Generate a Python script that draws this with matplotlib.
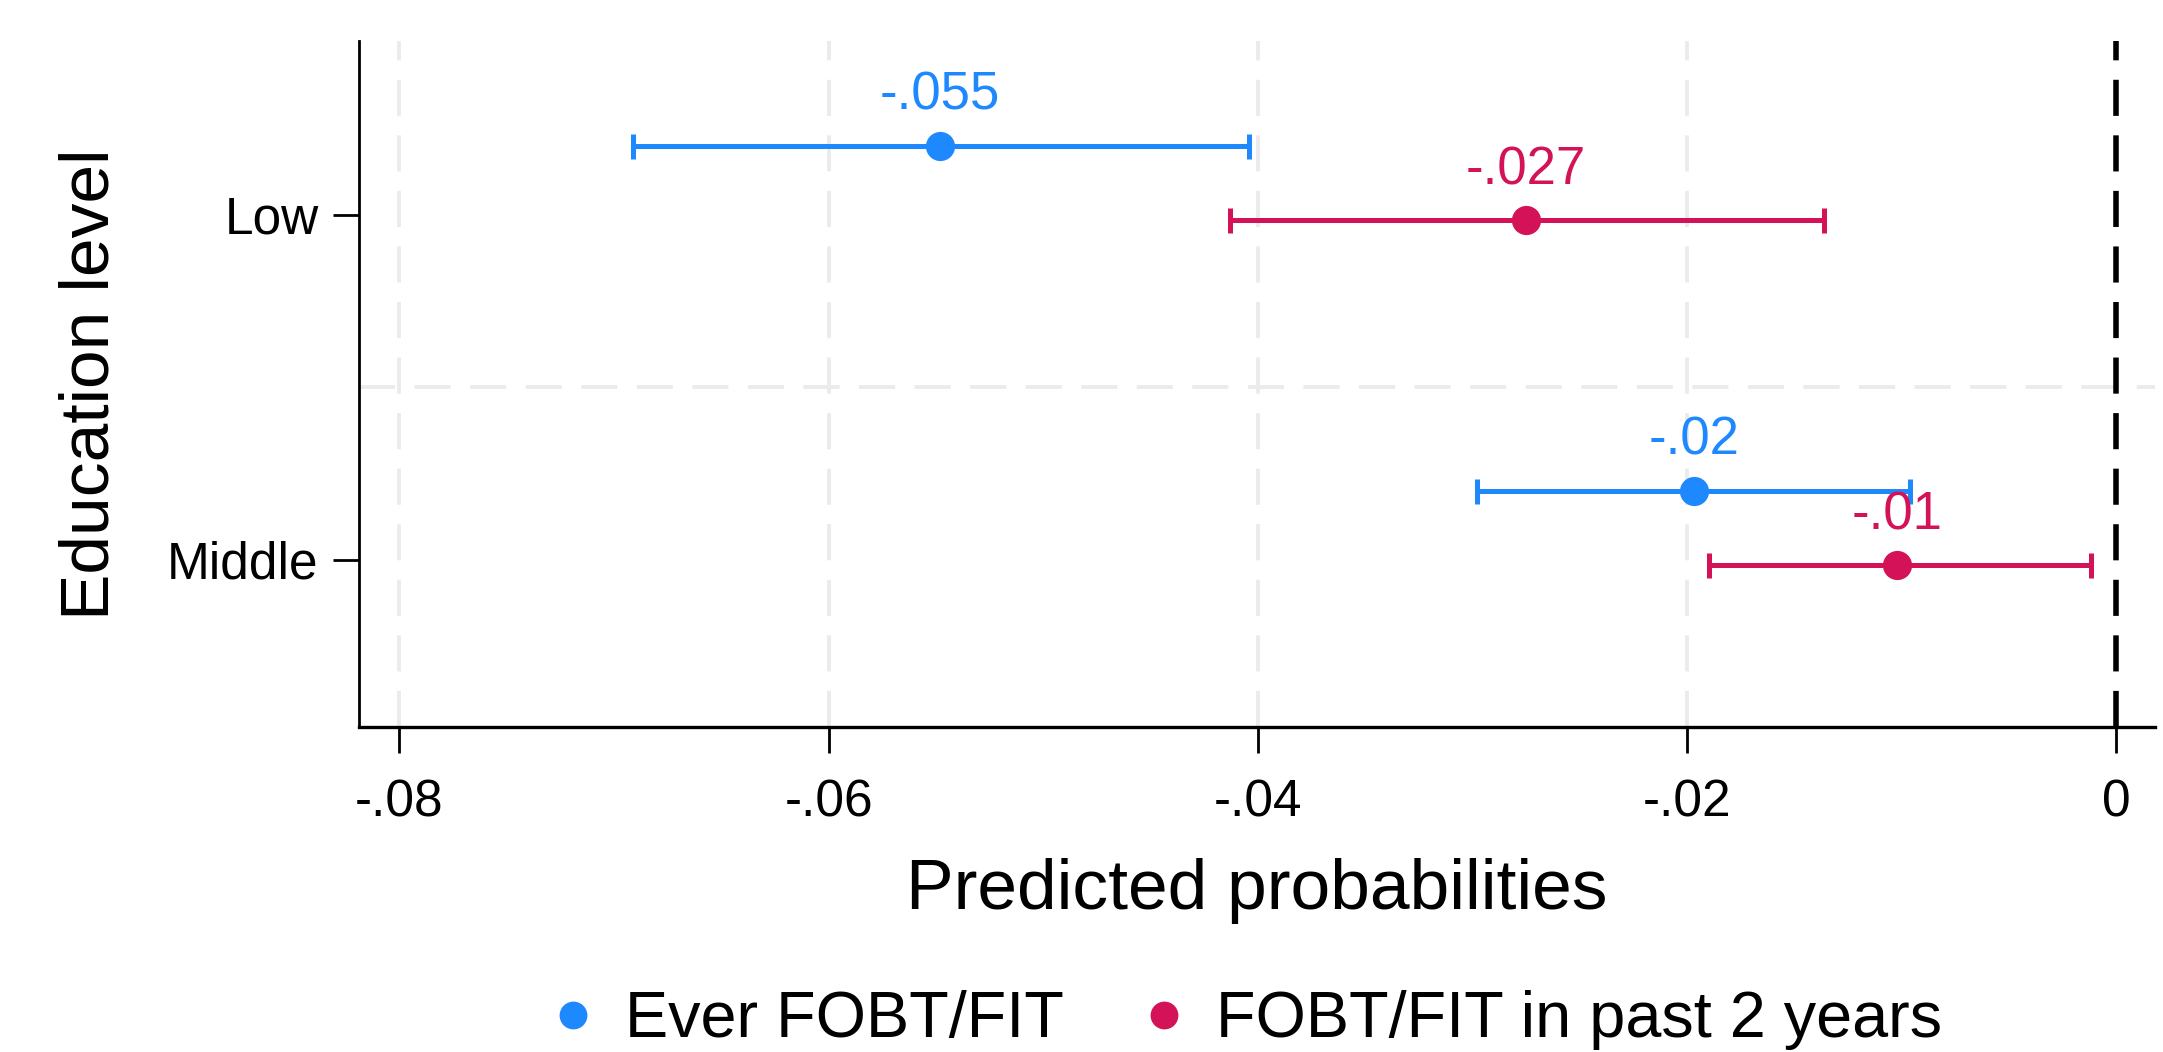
import matplotlib
matplotlib.use("Agg")
import matplotlib.pyplot as plt
from matplotlib.lines import Line2D

# ---------------------------------------------------
# DATA
# ---------------------------------------------------
categories = ["Low", "Middle"]
series_names = ["Ever FOBT/FIT", "FOBT/FIT in past 2 years"]

ever_est = [-0.0548, -0.0197]
ever_lo = [-0.0691, -0.0298]
ever_hi = [-0.0404, -0.0096]
ever_lab = ["-.055", "-.02"]

past_est = [-0.0275, -0.0102]
past_lo = [-0.0413, -0.0190]
past_hi = [-0.0136, -0.0012]
past_lab = ["-.027", "-.01"]

xticks = [-0.08, -0.06, -0.04, -0.02, 0.0]
xtick_labels = ["-.08", "-.06", "-.04", "-.02", "0"]

BLUE = "#1E88FF"
RED = "#D41257"

plt.rcParams["font.family"] = ["Liberation Sans", "DejaVu Sans"]
plt.rcParams["lines.scale_dashes"] = False

fig = plt.figure(figsize=(10.815, 5.26), dpi=200)
ax = fig.add_axes([0.1658, 0.309, 0.8305, 0.652])

# category positions: Low on top
ypos = [2, 1]
offsets = [0.2, -0.016]

# grid lines
for xt in xticks[:-1]:
    ax.axvline(xt, color="#EBEBEB", lw=1.4, dashes=(13, 7), zorder=0)
ax.axhline(1.5, color="#EBEBEB", lw=1.4, dashes=(13, 7), zorder=0)
ax.axvline(0, color="black", lw=2.0, dashes=(13, 7), zorder=1)

series = [
    (ever_est, ever_lo, ever_hi, ever_lab, BLUE, offsets[0]),
    (past_est, past_lo, past_hi, past_lab, RED, offsets[1]),
]

for est, lo, hi, lab, col, off in series:
    ys = [y + off for y in ypos]
    xerr = [[e - l for e, l in zip(est, lo)], [h - e for e, h in zip(est, hi)]]
    ax.errorbar(est, ys, xerr=xerr, fmt="o", color=col, ms=9.5,
                elinewidth=1.8, capsize=4.5, capthick=1.8, zorder=3)
    for x, y, t in zip(est, ys, lab):
        ax.annotate(t, (x, y), xytext=(0, 18), textcoords="offset points",
                    ha="center", va="center", color=col, fontsize=19)

ax.set_xlim(-0.0819, 0.0018)
ax.set_ylim(0.516, 2.504)
ax.set_xticks(xticks)
ax.set_xticklabels(xtick_labels)
ax.set_yticks(ypos)
ax.set_yticklabels(categories)

ax.tick_params(axis="x", length=9.4, width=1.0, labelsize=18.5, pad=9)
ax.tick_params(axis="y", length=9.4, width=1.0, labelsize=18.5, pad=5)

ax.spines["top"].set_visible(False)
ax.spines["right"].set_visible(False)
ax.spines["left"].set_linewidth(1.0)
ax.spines["bottom"].set_linewidth(1.2)

ax.set_xlabel("Predicted probabilities", fontsize=25.7, labelpad=11)
ax.set_ylabel("Education level", fontsize=25, labelpad=16)

handles = [
    Line2D([], [], marker="o", ls="none", color=BLUE, ms=9),
    Line2D([], [], marker="o", ls="none", color=RED, ms=9),
]
fig.legend(handles, series_names, loc="center", bbox_to_anchor=(0.574, 0.03),
           ncol=2, frameon=False, fontsize=23.3, handletextpad=0.3,
           columnspacing=1.05, handlelength=1.0)

fig.savefig("out.png", dpi=200)
